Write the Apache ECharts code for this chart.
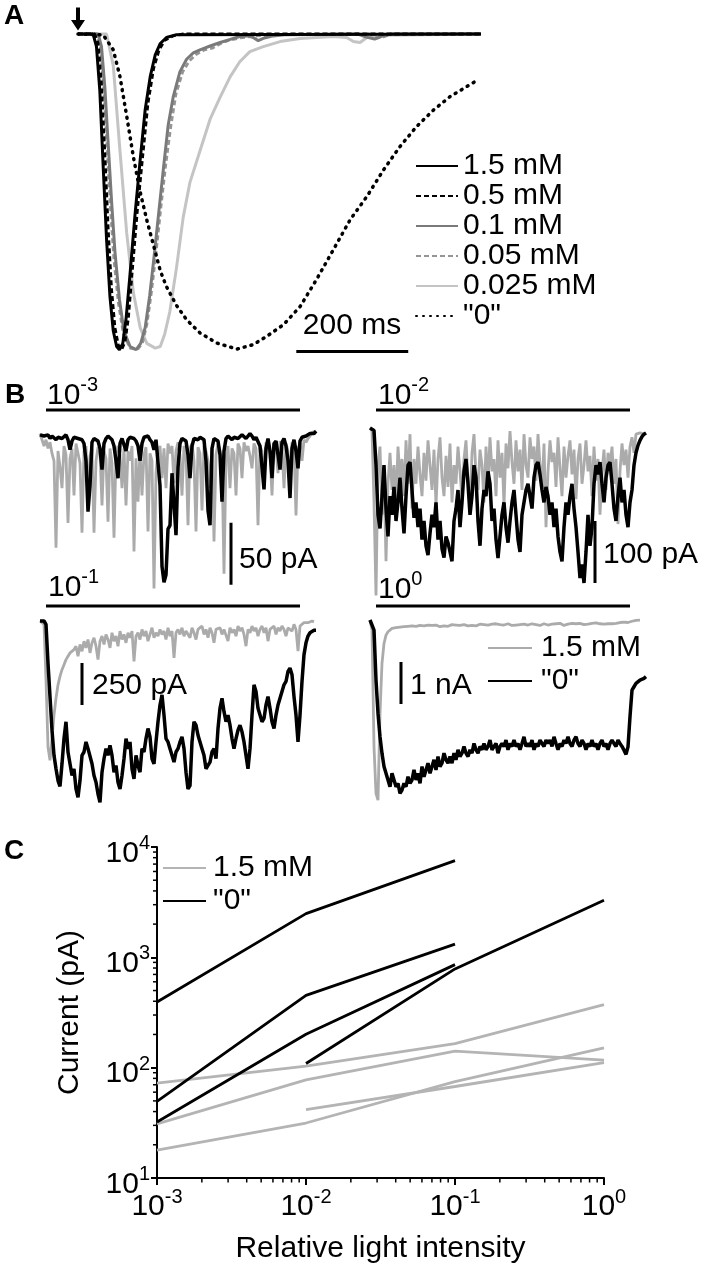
<!DOCTYPE html>
<html><head><meta charset="utf-8">
<script src="https://cdn.jsdelivr.net/npm/echarts@6/dist/echarts.min.js"></script>
<style>html,body{margin:0;padding:0;background:#fff}#c{width:708px;height:1273px}</style>
</head><body><div id="c"></div>
<script>
// ===== Panel A: normalized current vs time (ms) =====
const A_15 = [[0,0],[27,0],[33,-0.04],[39,-0.18],[45,-0.42],[51,-0.65],[57,-0.83],[63,-0.94],[69,-0.99],[74,-1.0],[80,-0.98],[86,-0.9],[93,-0.76],[102,-0.57],[111,-0.4],[120,-0.24],[129,-0.135],[138,-0.066],[147,-0.03],[158,-0.011],[176,-0.002],[720,0]];
const A_05 = [[0,0],[30,0],[36,-0.03],[42,-0.16],[48,-0.38],[54,-0.62],[60,-0.81],[66,-0.93],[72,-0.985],[78,-1.0],[84,-0.975],[90,-0.9],[97,-0.75],[106,-0.56],[116,-0.38],[125,-0.22],[135,-0.11],[145,-0.05],[155,-0.02],[170,-0.006],[188,0],[720,0]];
const A_01 = [[0,0],[36,0],[42,-0.04],[48,-0.17],[54,-0.35],[60,-0.53],[66,-0.69],[74,-0.84],[82,-0.94],[93,-0.99],[104,-1.0],[112,-0.98],[120,-0.93],[128,-0.83],[135,-0.72],[144,-0.57],[153,-0.42],[161,-0.29],[170,-0.2],[182,-0.12],[194,-0.08],[206,-0.06],[218,-0.05],[236,-0.038],[254,-0.027],[272,-0.017],[289,-0.008],[304,-0.006],[313,-0.011],[322,-0.021],[331,-0.014],[349,-0.006],[373,-0.002],[500,0],[515,-0.01],[530,-0.016],[545,-0.006],[560,0],[720,0]];
const A_005 = [[0,0],[34,0],[40,-0.04],[46,-0.17],[52,-0.36],[58,-0.55],[64,-0.71],[72,-0.85],[81,-0.95],[93,-0.995],[106,-1.0],[115,-0.98],[123,-0.92],[131,-0.82],[139,-0.7],[148,-0.55],[157,-0.41],[166,-0.29],[175,-0.19],[187,-0.12],[199,-0.085],[211,-0.065],[226,-0.05],[240,-0.045],[255,-0.03],[270,-0.02],[290,-0.012],[320,-0.006],[360,-0.002],[520,0],[535,-0.012],[548,-0.008],[560,0],[720,0]];
const A_0025 = [[0,0],[51,0],[63,-0.1],[75,-0.37],[87,-0.63],[99,-0.82],[111,-0.93],[123,-0.98],[138,-0.995],[147,-0.99],[155,-0.95],[164,-0.88],[176,-0.74],[188,-0.58],[200,-0.47],[218,-0.37],[236,-0.27],[254,-0.2],[272,-0.135],[289,-0.088],[307,-0.056],[331,-0.04],[361,-0.024],[397,-0.014],[456,-0.008],[480,-0.011],[492,-0.024],[504,-0.027],[516,-0.011],[546,-0.004],[720,0]];
const A_0 = [[0,0],[45,-0.003],[63,-0.05],[75,-0.135],[87,-0.26],[99,-0.39],[111,-0.5],[123,-0.59],[135,-0.67],[147,-0.75],[158,-0.8],[176,-0.86],[194,-0.905],[218,-0.947],[248,-0.979],[284,-0.998],[313,-0.984],[337,-0.958],[367,-0.921],[397,-0.863],[426,-0.778],[456,-0.684],[486,-0.589],[516,-0.515],[546,-0.43],[575,-0.357],[605,-0.293],[635,-0.241],[665,-0.198],[694,-0.167],[712,-0.148]];
const A_labels = ['1.5 mM','0.5 mM','0.1 mM','0.05 mM','0.025 mM','"0"'];

// ===== Panel B: current (pA) per sample =====
const B1_gray = [2,1,-8,-3,-10,-5,-14,-20,-90,-12,-25,-42,-8,-15,-70,-18,-10,-48,-6,-14,-22,-78,-12,-8,-50,-16,-10,-78,-20,-9,-14,-56,-12,-18,-69,-10,-22,-82,-14,-8,-16,-42,-10,-56,-12,-20,-8,-93,-18,-53,-12,-48,-15,-9,-77,-14,-20,-123,-30,-12,-8,-34,-10,-42,-6,-14,-8,-38,-12,-5,-16,-48,-8,-12,-72,-10,-6,-20,-77,-9,-14,-60,-8,-12,-20,-42,-10,-85,-15,-6,-12,-20,-111,-18,-8,-42,-10,-14,-48,-6,-10,-34,-5,-12,-8,-16,-26,-6,-10,-72,-8,-12,-34,-5,-10,-14,-48,-6,-9,-30,-4,-10,-42,-6,-12,-34,-5,-8,-64,-10,-6,-20,-3,-5,-2,0,3,2,4];
const B1_black = [1,2,0,-1,1,-2,0,-1,-3,-1,0,-2,-1,1,-3,-11,-4,-1,0,-2,-1,-3,-6,-20,-61,-40,-5,-2,-1,-4,-10,-27,-6,-2,0,-1,-3,-8,-20,-34,-6,-2,-1,-12,-3,-1,0,-2,-4,-8,-20,-6,-1,-2,0,-3,-5,-11,-3,-2,-40,-105,-118,-112,-75,-72,-30,-55,-80,-25,-6,-2,-1,-4,-15,-34,-8,-2,-1,-3,-1,0,-3,-20,-60,-72,-10,-2,-1,-4,-15,-53,-12,-2,0,-1,-3,-1,0,-2,-1,1,0,-2,-1,2,0,-3,-1,-2,-8,-25,-43,-10,-2,-12,-34,-6,-4,-15,-27,-5,-2,-8,-20,-50,-10,-3,-12,-26,-4,-1,-2,0,1,2,3,2,4];
const B2_gray = [0,-5,-120,-270,-60,-30,-140,-70,-215,-90,-40,-100,-60,-120,-30,-80,-50,-110,-20,-90,-10,-130,-50,-90,-30,-75,-110,-40,-85,-20,-60,-100,-35,-125,-50,-15,-80,-110,-45,-95,-25,-120,-60,-90,-30,-70,-115,-50,-20,-85,-130,-40,-10,-75,-100,-35,-60,-120,-30,-90,-15,-70,-50,-110,-20,-80,-40,-125,-25,-65,-5,-55,-90,-20,-70,-35,-100,-10,-60,-80,-15,-50,-30,-85,-10,-60,-100,-25,-160,-70,-20,-55,-40,-95,-15,-65,-110,-30,-80,-45,-20,-75,-35,-115,-50,-25,-90,-60,-20,-70,-45,-110,-30,-85,-50,-140,-70,-35,-100,-40,-60,-30,-90,-50,-155,-70,-25,-60,-35,-80,-30,-15,-40,-10,-12,-8,-6,-10,-8];
const B2_black = [0,0,-4,-60,-140,-162,-110,-60,-130,-175,-110,-140,-95,-150,-120,-80,-130,-170,-110,-60,-55,-100,-145,-120,-160,-130,-180,-150,-190,-205,-170,-140,-160,-120,-180,-150,-195,-209,-175,-185,-200,-215,-150,-130,-100,-160,-120,-70,-50,-90,-140,-110,-60,-80,-150,-190,-130,-100,-110,-70,-90,-150,-130,-180,-210,-175,-140,-120,-160,-185,-150,-120,-100,-140,-180,-200,-140,-120,-100,-90,-110,-130,-80,-60,-55,-75,-100,-120,-95,-110,-140,-120,-160,-130,-175,-200,-215,-160,-120,-140,-110,-90,-130,-160,-200,-242,-220,-250,-200,-140,-190,-160,-90,-60,-75,-55,-90,-120,-80,-60,-55,-90,-130,-150,-110,-80,-120,-100,-140,-160,-120,-100,-60,-40,-28,-20,-14,-10,-8];
const B3_gray = [0,0,-20,-350,-750,-830,-700,-560,-460,-380,-330,-290,-260,-230,-210,-190,-200,-170,-150,-210,-140,-180,-120,-160,-110,-190,-130,-100,-150,-230,-120,-90,-140,-80,-110,-160,-70,-120,-90,-150,-60,-110,-80,-130,-70,-100,-60,-240,-90,-70,-110,-50,-90,-60,-120,-80,-40,-100,-70,-90,-50,-80,-60,-110,-40,-90,-60,-220,-70,-50,-80,-40,-90,-60,-50,-100,-40,-70,-110,-50,-60,-30,-80,-50,-100,-40,-70,-130,-50,-60,-40,-80,-50,-60,-120,-40,-70,-50,-90,-30,-60,-40,-80,-150,-50,-70,-30,-60,-40,-90,-50,-30,-70,-40,-120,-50,-60,-30,-80,-40,-60,-30,-50,-90,-40,-30,-60,-20,-50,-180,-30,-20,-10,-20,-10,-5,0,-5];
const B3_black = [0,0,0,-20,-250,-450,-650,-800,-880,-950,-985,-850,-700,-600,-780,-850,-920,-880,-1000,-1050,-950,-800,-780,-720,-760,-760,-850,-920,-960,-1030,-1080,-900,-820,-760,-800,-740,-800,-900,-860,-960,-1000,-920,-820,-700,-760,-720,-880,-940,-800,-860,-900,-760,-780,-700,-640,-690,-820,-850,-720,-600,-500,-440,-560,-700,-720,-760,-800,-840,-780,-760,-720,-690,-760,-900,-1000,-980,-720,-600,-620,-680,-720,-760,-800,-880,-860,-840,-780,-760,-820,-640,-520,-460,-540,-600,-560,-620,-700,-760,-700,-650,-620,-660,-720,-800,-880,-760,-560,-380,-420,-520,-560,-600,-580,-500,-450,-520,-600,-640,-560,-500,-460,-420,-380,-360,-300,-280,-320,-450,-560,-720,-560,-360,-200,-130,-90,-70,-60,-55,-55];
const B4_gray = [0,-240,-3020,-4130,-4290,-2220,-1030,-560,-360,-280,-240,-200,-220,-180,-200,-170,-190,-160,-180,-150,-170,-140,-180,-150,-160,-130,-170,-140,-150,-120,-160,-130,-150,-120,-140,-160,-120,-140,-110,-150,-130,-110,-140,-120,-100,-130,-150,-110,-120,-140,-100,-130,-110,-140,-120,-100,-130,-110,-90,-120,-140,-100,-120,-90,-130,-110,-100,-120,-140,-90,-110,-130,-100,-120,-90,-110,-130,-100,-80,-120,-100,-90,-120,-110,-80,-130,-100,-90,-110,-120,-80,-100,-120,-90,-110,-80,-100,-130,-90,-100,-110,-80,-100,-90,-120,-80,-100,-110,-70,-100,-90,-80,-110,-70,-100,-90,-60,-100,-80,-90,-70,-90,-60,-80,-100,-60,-70,-50,-80,-60,-40,-30,-20,-10,-15,-5];
const B4_black = [0,0,-240,-1430,-2220,-2780,-3175,-3490,-3650,-3810,-3970,-3650,-3810,-3970,-3890,-4130,-4050,-3890,-3970,-3730,-3890,-3810,-3570,-3810,-3650,-3890,-3490,-3730,-3570,-3410,-3650,-3490,-3330,-3570,-3250,-3490,-3410,-3170,-3330,-3410,-3250,-3410,-3170,-3330,-3090,-3250,-3170,-3010,-3170,-3250,-3090,-3170,-2940,-3090,-3170,-3010,-3090,-2940,-3090,-3010,-2860,-3090,-3010,-2940,-3170,-3010,-2940,-3010,-2860,-3090,-2940,-3010,-2860,-3010,-2940,-3090,-2940,-2780,-3010,-2940,-3010,-2860,-3090,-2940,-3010,-2860,-2940,-3010,-2860,-2940,-2860,-3010,-2780,-2940,-3090,-2940,-3010,-2860,-2940,-2780,-2940,-3010,-2860,-2780,-2940,-3010,-2860,-2940,-3090,-2940,-3010,-2860,-3010,-2940,-3090,-2940,-2860,-3010,-2940,-3090,-2940,-2860,-2940,-3010,-2860,-2940,-3010,-3100,-3200,-3020,-2300,-1670,-1590,-1510,-1470,-1430,-1400,-1390,-1350];
const B_stimulus = [3, 130];            // light step, in samples
const B_intensity = ['-3','-2','-1','0'];

// ===== Panel C: peak current (pA) vs relative intensity =====
const C_x = [0.001, 0.01, 0.1, 1];
const C_gray = [[72.3,103.5,165.5,372],[30.9,77.5,141,117],[17.9,31.5,74.8,151],[null,41.6,67.5,111]];
const C_black = [[394,2490,7530,null],[49.4,452,1318,null],[32.2,201,859,null],[null,109,785,3286]];
const C_xMinor = [0.002,0.003,0.004,0.005,0.006,0.007,0.008,0.009,0.02,0.03,0.04,0.05,0.06,0.07,0.08,0.09,0.2,0.3,0.4,0.5,0.6,0.7,0.8,0.9];
const C_yMinor = [20,30,40,50,60,70,80,90,200,300,400,500,600,700,800,900,2000,3000,4000,5000,6000,7000,8000,9000];

// ===== layout / styles =====
const F = "'Liberation Sans', Arial, Helvetica, sans-serif";
const FS = 30;
const richSup = {
  b: {fontSize: FS, fontFamily: F, color: '#000', padding: [5,0,0,0]},
  s: {fontSize: 20, fontFamily: F, color: '#000', verticalAlign: 'top'}
};
const pow = e => '{b|10}{s|' + e + '}';

const grids = [
  {left:78, top:34, width:403, height:322},     // A
  {left:40, top:410, width:278, height:185},    // B 10^-3
  {left:370, top:410, width:278, height:185},   // B 10^-2
  {left:40, top:606, width:278, height:209},    // B 10^-1
  {left:370, top:606, width:278, height:204},   // B 10^0
  {left:157, top:847, width:447, height:331}    // C
].map(g => Object.assign({containLabel:false, outerBoundsMode:'none'}, g));

const Byr = [[-128.2,21],[-269.4,29],[-1155,89.3],[-4524,333]];
const Bscale = [{x:95.5, y0:-70, len:50}, {x:112.5, y0:-150, len:100}, {x:21, y0:-250, len:250}, {x:15.5, y0:-1000, len:1000}];

const xAxes = [], yAxes = [];
xAxes.push({gridIndex:0, type:'value', min:0, max:720, show:false});
yAxes.push({gridIndex:0, type:'value', min:-1.02, max:0, show:false});
for (let i = 0; i < 4; i++) {
  xAxes.push({gridIndex:i+1, type:'value', min:0, max:139, show:false});
  yAxes.push({gridIndex:i+1, type:'value', min:Byr[i][0], max:Byr[i][1], show:false});
}
const expLabel = v => pow(Math.round(Math.log10(v)));
xAxes.push({gridIndex:5, type:'log', logBase:10, min:0.001, max:1,
  axisLine:{lineStyle:{color:'#000', width:2}},
  axisTick:{length:7, lineStyle:{color:'#000', width:2}},
  splitLine:{show:false},
  axisLabel:{formatter:expLabel, margin:9, rich:richSup},
  name:'Relative light intensity', nameLocation:'middle', nameGap:56,
  nameTextStyle:{fontSize:FS, fontFamily:F, color:'#000'}});
yAxes.push({gridIndex:5, type:'log', logBase:10, min:10, max:10000,
  axisLine:{lineStyle:{color:'#000', width:2}},
  axisTick:{length:6, lineStyle:{color:'#000', width:2}},
  splitLine:{show:false},
  axisLabel:{formatter:expLabel, margin:7, rich:richSup, padding:[8,0,0,0]},
  name:'Current (pA)', nameLocation:'middle', nameGap:72, nameRotate:90,
  nameTextStyle:{fontSize:FS, fontFamily:F, color:'#000'}});

const series = [];
const line = (name, data, xi, color, width, type, z, cap) => ({
  name, type:'line', data, xAxisIndex:xi, yAxisIndex:xi, symbol:'none', clip:false, silent:true,
  lineStyle:{color, width, type: type || 'solid', cap: cap || 'butt'}, itemStyle:{color}, z: z || 2
});

// Panel A (draw light ones first)
series.push(line('A|0.025 mM', A_0025, 0, '#c4c4c4', 3));
series.push(line('A|0.05 mM', A_005, 0, '#959595', 2.8, [5,3]));
series.push(line('A|0.1 mM', A_01, 0, '#7a7a7a', 3));
series.push(line('A|"0"', A_0, 0, '#000', 3.5, [1,6], 2, 'round'));
series.push(line('A|0.5 mM', A_05, 0, '#000', 2.8, [5,3]));
const a15 = line('A|1.5 mM', A_15, 0, '#000', 3);
a15.markPoint = {silent:true, symbol:'path://M5,0 L9,0 L9,13 L14,13 L7,24 L0,13 L5,13 Z',
  symbolSize:[14,23], symbolOffset:[0,-15], itemStyle:{color:'#000'}, label:{show:false},
  data:[{coord:[0,0]}]};
series.push(a15);
// 200 ms scale bar
series.push(line('scaleA', [[390,-1.006],[590,-1.006]], 0, '#000', 3));

// Panel B
const Bg = [B1_gray, B2_gray, B3_gray, B4_gray];
const Bk = [B1_black, B2_black, B3_black, B4_black];
for (let i = 0; i < 4; i++) {
  const xi = i + 1;
  series.push(line('B|1.5 mM', Bg[i].map((v,k)=>[k,v]), xi, '#ababab', 2.8));
  series.push(line('B|"0"', Bk[i].map((v,k)=>[k,v]), xi, '#000', 3.5, 'solid', 3));
  series.push(line('stim'+i, B_stimulus.map(k=>[k, Byr[i][1]]), xi, '#000', 3));
  const sb = Bscale[i];
  series.push(line('sb'+i, [[sb.x, sb.y0],[sb.x, sb.y0 - sb.len]], xi, '#000', 3));
}

// Panel C
C_gray.forEach(r => series.push(line('C|1.5 mM', C_x.map((x,i)=>[x,r[i]]).filter(d=>d[1]!=null), 5, '#b4b4b4', 2.8)));
C_black.forEach(r => series.push(line('C|"0"', C_x.map((x,i)=>[x,r[i]]).filter(d=>d[1]!=null), 5, '#000', 2.8, 'solid', 3)));
series.push({type:'custom', xAxisIndex:5, yAxisIndex:5, silent:true, clip:false,
  data: C_xMinor.map(v=>[v,10]),
  renderItem:(p, api)=>{ const c = api.coord([api.value(0), api.value(1)]);
    return {type:'line', shape:{x1:c[0], y1:c[1], x2:c[0], y2:c[1]+4.5}, style:{stroke:'#000', lineWidth:1.5}}; }});
series.push({type:'custom', xAxisIndex:5, yAxisIndex:5, silent:true, clip:false,
  data: C_yMinor.map(v=>[0.001,v]),
  renderItem:(p, api)=>{ const c = api.coord([api.value(0), api.value(1)]);
    return {type:'line', shape:{x1:c[0]-4, y1:c[1], x2:c[0], y2:c[1]}, style:{stroke:'#000', lineWidth:1.5}}; }});

const legTxt = {fontSize:FS, fontFamily:F, color:'#000', lineHeight:28};
const legendFmt = n => n.split('|')[1];
const noSym = {color:'rgba(0,0,0,0)', borderWidth:0, borderColor:'rgba(0,0,0,0)'};
const legends = [
  {data: A_labels.map(l=>'A|'+l), orient:'vertical', left:415, top:151, itemWidth:42, itemHeight:12, itemGap:0,
   formatter:legendFmt, textStyle:legTxt, selectedMode:false, padding:0, itemStyle:noSym},
  {data:['B|1.5 mM','B|"0"'], orient:'vertical', left:487, top:633, itemWidth:44, itemHeight:12, itemGap:3,
   formatter:legendFmt, textStyle:Object.assign({padding:[0,0,0,4]}, legTxt), selectedMode:false, padding:0, itemStyle:noSym},
  {data:['C|1.5 mM','C|"0"'], orient:'vertical', left:162, top:853, itemWidth:43, itemHeight:12, itemGap:3,
   formatter:legendFmt, textStyle:Object.assign({padding:[0,0,0,2]}, legTxt), selectedMode:false, padding:0, itemStyle:noSym}
];

const txt = (x, y, text, extra) => ({type:'text', x, y, silent:true,
  style:Object.assign({text, fontSize:FS, fontFamily:F, fill:'#000', align:'left', verticalAlign:'middle'}, extra || {})});
const bold = (x, y, t) => txt(x, y, t, {fontSize:28, fontWeight:'bold', verticalAlign:'top'});
const supTxt = (x, y, e) => txt(x, y, pow(e), {rich:richSup});

const graphics = [
  bold(4, 2, 'A'), bold(5, 381, 'B'), bold(4, 837, 'C'),
  supTxt(47, 393, B_intensity[0]), supTxt(378, 393, B_intensity[1]),
  supTxt(48, 585, B_intensity[2]), supTxt(378, 587, B_intensity[3]),
  txt(239, 560, '50 pA'), txt(603, 555, '100 pA'), txt(92, 686, '250 pA'), txt(410, 686, '1 nA'),
  txt(352, 326, '200 ms', {align:'center'})
];

const chart = echarts.init(document.getElementById('c'), null, {renderer:'canvas', width:708, height:1273});
chart.setOption({
  animation:false, backgroundColor:'#fff',
  textStyle:{fontFamily:F},
  grid:grids, xAxis:xAxes, yAxis:yAxes, series, legend:legends, graphic:graphics
});
</script></body></html>
